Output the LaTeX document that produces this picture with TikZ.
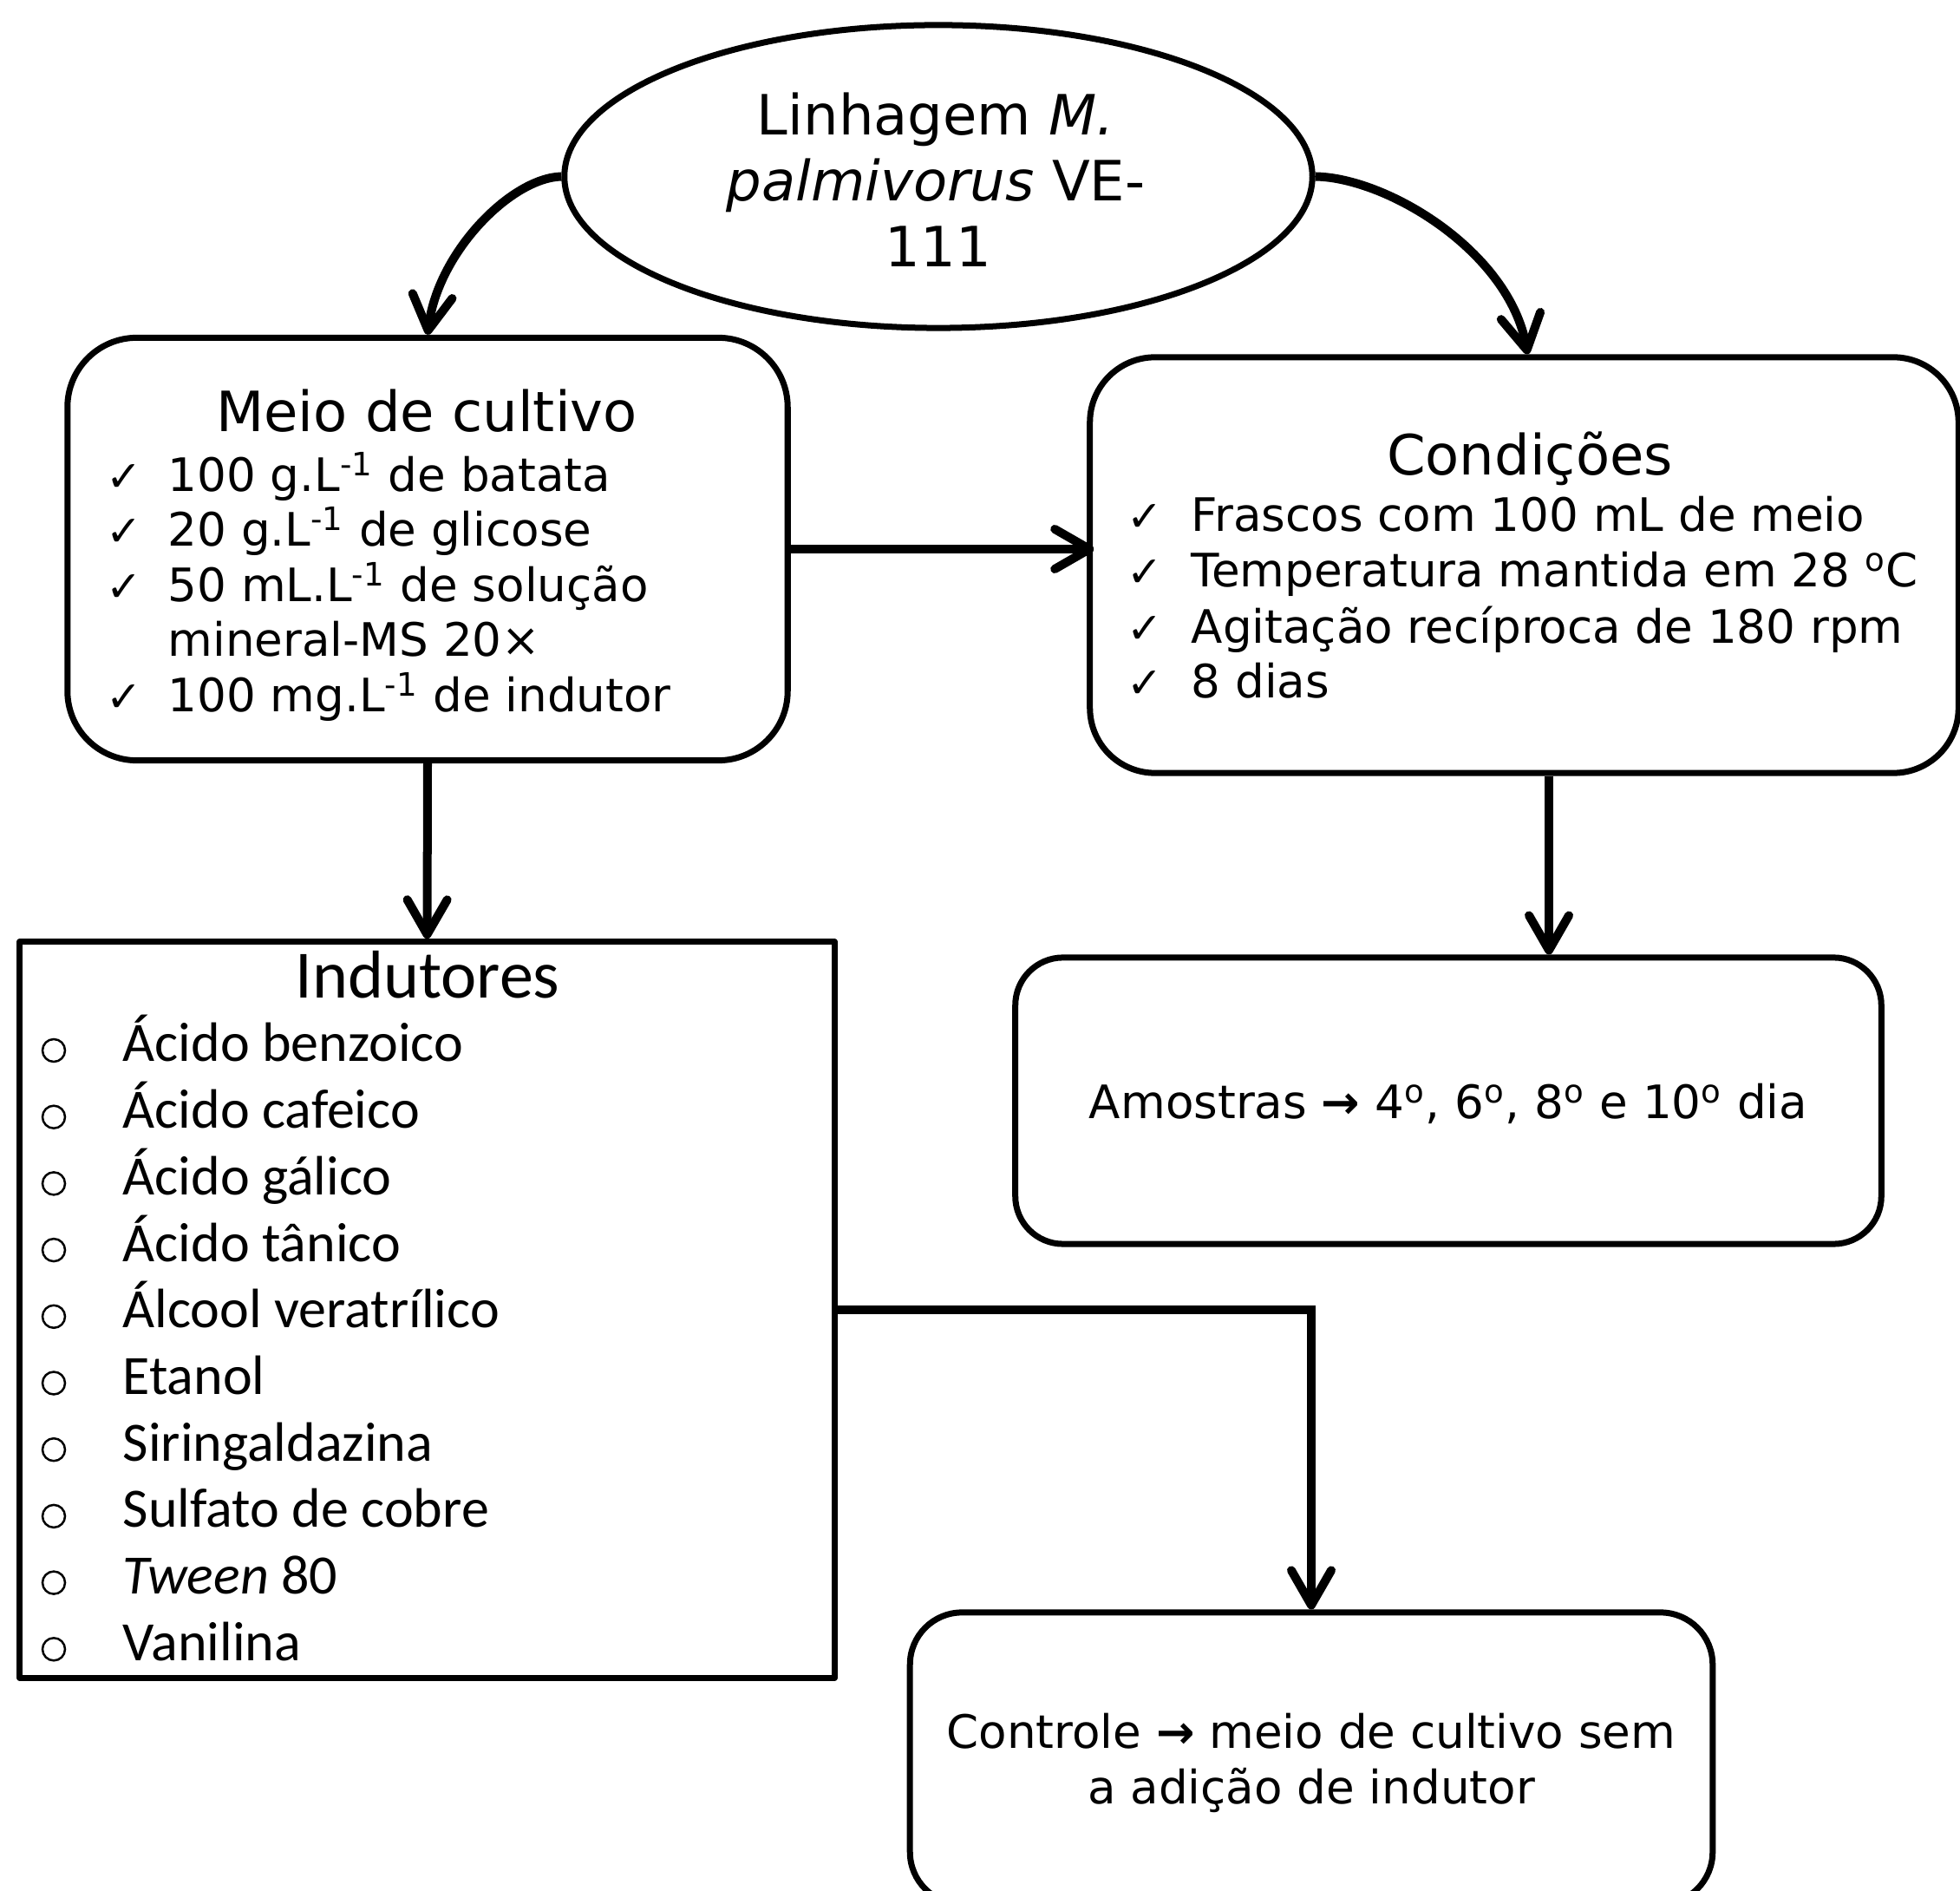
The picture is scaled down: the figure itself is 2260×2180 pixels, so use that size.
\documentclass[tikz,border=0pt]{standalone}
\usepackage{fontspec}
\setmainfont{DejaVu Sans}
\newfontfamily\calfont{Carlito}
\usetikzlibrary{arrows.meta,shapes.geometric}
\newcommand{\rarr}{\textbf{→}}
\begin{document}
\begin{tikzpicture}[x=0.01cm,y=-0.01cm,
  border/.style={draw=black,line width=0.07cm,line join=round},
  rbox/.style={border,rectangle,rounded corners=#1,inner sep=0pt},
  conn/.style={line width=0.1cm,-{Straight Barb[length=0.4cm,width=0.46cm,round]}},
  tv/.style={font=\fontsize{18.2pt}{22pt}\selectfont,inner sep=0pt},
  iv/.style={font=\fontsize{15.1pt}{18pt}\selectfont,inner sep=0pt},
  ck/.style={font=\fontsize{14pt}{16pt}\selectfont,inner sep=0pt},
  tc/.style={font=\calfont\fontsize{22.2pt}{26pt}\selectfont,inner sep=0pt},
  ic/.style={font=\calfont\fontsize{18.2pt}{22pt}\selectfont,inner sep=0pt},
  bul/.style={circle,draw,line width=0.025cm,minimum size=0.26cm,inner sep=0pt}
]
\useasboundingbox (0,0) rectangle (2260,2180);
\clip (0,0) rectangle (2260,2180);

% strain ellipse
\node[border,ellipse,minimum width=8.62cm,minimum height=3.49cm,inner sep=0pt] (strain) at (1082,203.5) {};
\node[tv,anchor=base] (s1) at (1079,156) {Linhagem \textit{M.}};
\node[tv,anchor=base] (s2) at (1079,232) {\textit{palmivorus} VE-};
\node[tv,anchor=base] (s3) at (1082,308) {111};

% boxes
\node[rbox=0.8cm,minimum width=8.30cm,minimum height=4.87cm] (meio) at (493,633) {};
\node[rbox=0.75cm,minimum width=10.01cm,minimum height=4.79cm] (cond) at (1757.5,651.5) {};
\node[rbox=0.55cm,minimum width=9.98cm,minimum height=3.30cm] (amo) at (1670,1269) {};
\node[rbox=0.6cm,minimum width=9.25cm,minimum height=3.36cm] (ctrl) at (1512,2027) {};
\node[border,rectangle,inner sep=0pt,minimum width=9.39cm,minimum height=8.48cm] (ind) at (492.5,1510) {};

% Meio de cultivo
\node[tv,anchor=base] (mt) at (492,498) {Meio de cultivo};
\node[ck,anchor=base] (mc1) at (143,567) {✓};
\node[ck,anchor=base] (mc2) at (143,630) {✓};
\node[ck,anchor=base] (mc3) at (143,694) {✓};
\node[ck,anchor=base] (mc5) at (143,821) {✓};
\node[iv,anchor=base west] (m1) at (193,567) {100 g.L\textsuperscript{-1} de batata};
\node[iv,anchor=base west] (m2) at (193,630) {20 g.L\textsuperscript{-1} de glicose};
\node[iv,anchor=base west] (m3) at (193,694) {50 mL.L\textsuperscript{-1} de solução};
\node[iv,anchor=base west] (m4) at (193,757) {mineral-MS 20×};
\node[iv,anchor=base west] (m5) at (193,821) {100 mg.L\textsuperscript{-1} de indutor};

% Condicoes
\node[tv,anchor=base] (ct) at (1764,548) {Condições};
\node[ck,anchor=base] (cc1) at (1320,613) {✓};
\node[ck,anchor=base] (cc2) at (1320,677) {✓};
\node[ck,anchor=base] (cc3) at (1320,742) {✓};
\node[ck,anchor=base] (cc4) at (1320,805) {✓};
\node[iv,anchor=base west] (c1) at (1373,613) {Frascos com 100 mL de meio};
\node[iv,anchor=base west] (c2) at (1373,677) {Temperatura mantida em 28 \textsuperscript{o}C};
\node[iv,anchor=base west] (c3) at (1373,742) {Agitação recíproca de 180 rpm};
\node[iv,anchor=base west] (c4) at (1373,805) {8 dias};

% Amostras
\node[iv,anchor=base] (at) at (1670,1290) {Amostras \rarr\ 4\textsuperscript{o}, 6\textsuperscript{o}, 8\textsuperscript{o} e 10\textsuperscript{o} dia};

% Controle
\node[iv,anchor=base] (k1) at (1512,2015) {Controle \rarr\ meio de cultivo sem};
\node[iv,anchor=base] (k2) at (1512,2079) {a adição de indutor};

% Indutores
\node[tc,anchor=base] (it) at (493,1151) {Indutores};
\foreach \i/\t [count=\n] in {0/{Ácido benzoico},1/{Ácido cafeico},2/{Ácido gálico},3/{Ácido tânico},4/{Álcool veratrílico},5/{Etanol},6/{Siringaldazina},7/{Sulfato de cobre},8/{\textit{Tween} 80},9/{Vanilina}}{
  \node[ic,anchor=base west] (i\n) at (141,1224+76.7*\i) {\t};
  \node[bul] (b\n) at (62,1211+76.7*\i) {};
}

% connectors
\draw[conn] (strain.west) .. controls (590,205) and (505,290) .. (meio.north);
\draw[conn] (strain.east) .. controls (1600,205) and (1740,290) .. ([xshift=0.04cm]cond.north);
\draw[conn,shorten >=-0.08cm] (meio.east) -- (meio.east -| cond.west);
\draw[conn] (meio.south) -- (ind.north);
\draw[conn] ([xshift=0.285cm]cond.south) -- ([xshift=0.285cm]cond.south |- amo.north);
\draw[conn] (ind.east) -| (ctrl.north);
\end{tikzpicture}
\end{document}
